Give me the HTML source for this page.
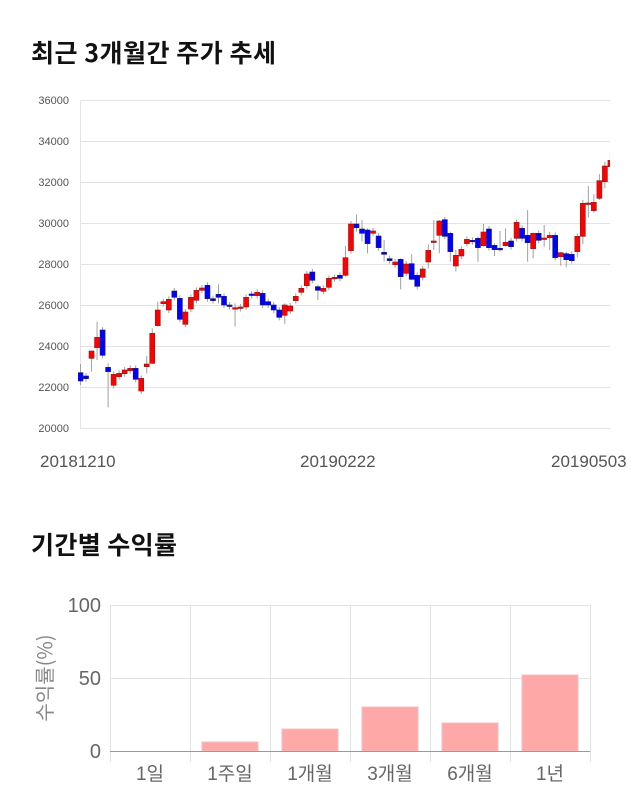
<!DOCTYPE html>
<html><head><meta charset="utf-8"><style>
body{margin:0;background:#fff;width:640px;height:810px;overflow:hidden;font-family:"Liberation Sans","Noto Sans CJK KR",sans-serif}
</style></head><body>
<svg id="s" width="640" height="810" xmlns="http://www.w3.org/2000/svg" style="position:absolute;left:0;top:0">
<text x="31" y="62" font-size="25" font-weight="bold" fill="#111" font-family="Noto Sans CJK KR, sans-serif" textLength="245">최근 3개월간 주가 추세</text>
<text x="31" y="554" font-size="25" font-weight="bold" fill="#111" font-family="Noto Sans CJK KR, sans-serif" textLength="146">기간별 수익률</text>
<g id="grid" stroke="#e3e3e3" stroke-width="1"></g>
<line x1="80.5" y1="100" x2="80.5" y2="428" stroke="#e3e3e3"/>
<g id="ylab" font-size="11" fill="#555" text-anchor="end"></g>
<g font-size="17" fill="#555">
<text x="40" y="467">20181210</text>
<text x="300" y="467">20190222</text>
<text x="551" y="467">20190503</text>
</g>
<g id="cs"></g>
<g stroke="#e3e3e3">
<line x1="110" y1="605.5" x2="590" y2="605.5"/>
<line x1="110" y1="678.5" x2="590" y2="678.5"/>
<line x1="110.5" y1="605" x2="110.5" y2="762"/>
<line x1="190.5" y1="605" x2="190.5" y2="762"/>
<line x1="270.5" y1="605" x2="270.5" y2="762"/>
<line x1="350.5" y1="605" x2="350.5" y2="762"/>
<line x1="430.5" y1="605" x2="430.5" y2="762"/>
<line x1="510.5" y1="605" x2="510.5" y2="762"/>
<line x1="590.5" y1="605" x2="590.5" y2="762"/>
</g>
<g fill="#ffa8a8" stroke="#f0c0c0" stroke-width="1">
<rect x="202" y="742" width="56" height="9"/>
<rect x="282" y="729" width="56" height="22"/>
<rect x="362" y="707" width="56" height="44"/>
<rect x="442" y="723" width="56" height="28"/>
<rect x="522" y="675" width="56" height="76"/>
</g>
<line x1="110" y1="751.5" x2="590" y2="751.5" stroke="#999"/>
<g font-size="20" fill="#666" text-anchor="end">
<text x="101" y="612">100</text>
<text x="101" y="685">50</text>
<text x="101" y="758">0</text>
</g>
<text transform="translate(52,678) rotate(-90)" font-size="20" fill="#888" text-anchor="middle" font-family="Noto Sans CJK KR, sans-serif">수익률(%)</text>
<g font-size="19" fill="#666" text-anchor="middle" font-family="Liberation Sans, Noto Sans CJK KR, sans-serif">
<text x="150" y="780">1일</text>
<text x="230" y="780">1주일</text>
<text x="310" y="780">1개월</text>
<text x="390" y="780">3개월</text>
<text x="470" y="780">6개월</text>
<text x="550" y="780">1년</text>
</g>
</svg>
<script>
var NS="http://www.w3.org/2000/svg";
function el(p,t,a){var e=document.createElementNS(NS,t);for(var k in a)e.setAttribute(k,a[k]);p.appendChild(e);return e;}
var g=document.getElementById('grid'),yl=document.getElementById('ylab');
for(var i=0;i<=8;i++){var v=20000+i*2000;var y=428-(v-20000)*0.0205;
el(g,'line',{x1:80,x2:610,y1:y+0.5,y2:y+0.5});
var t=el(yl,'text',{x:69,y:y+4});t.textContent=v;}
var A=[[848,873,'b',822,885],[858,866,'b'],[783,805,'r',783,845],[742,773,'r',695,810],[720,796,'b'],[832,845,'b',820,952],[853,886,'r'],[850,860,'r'],[840,851,'r'],[835,842,'r'],[835,868,'b'],[865,903,'r'],[822,830,'r',798,850],[730,820,'r',715,822],[660,707,'r',635,710],[635,641,'r'],[628,660,'r'],[603,622,'b'],[625,688,'b'],[666,703,'r'],[622,657,'r'],[601,631,'r'],[594,601,'r'],[586,626,'b'],[626,632,'b'],[613,622,'b',583,640],[619,645,'b'],[645,648,'b'],[653,657,'r',640,710],[651,655,'r'],[622,651,'r'],[612,616,'b'],[607,617,'r'],[610,645,'b'],[635,645,'b'],[645,660,'b'],[660,682,'b'],[645,676,'r',640,702],[648,663,'r'],[619,632,'r'],[595,607,'r'],[552,587,'r'],[546,571,'b'],[590,601,'b',585,630],[595,604,'r'],[565,592,'r']];
var B=[[382,385,'r'],[376,385,'b'],[323,376,'r',288,380],[222,302,'r'],[222,233,'b',193,245],[237,250,'b',210,275],[240,281,'b',235,310],[243,250,'r'],[258,293,'b'],[307,313,'b',270,335],[326,332,'b'],[336,344,'r'],[328,380,'b',325,418],[342,370,'r'],[341,388,'b',313,390],[376,409,'b'],[357,382,'r'],[301,336,'r',283,355],[273,275,'r',210,300],[213,256,'r',210,310],[209,259,'b'],[250,305,'b',245,335],[316,348,'r',300,365],[298,318,'r'],[268,281,'r'],[271,274,'b'],[265,293,'b',260,335],[246,287,'r',222,290],[237,293,'b'],[286,299,'b',280,318],[295,299,'b',243,305],[277,287,'r',235,290],[273,290,'b'],[217,265,'r'],[235,265,'b'],[256,278,'b',180,335],[250,296,'r',248,325],[250,271,'b'],[264,266,'r',225,290],[256,263,'r',245,300],[256,323,'b'],[308,320,'r',305,347],[311,329,'b',305,352],[313,332,'b'],[259,305,'r',250,322],[160,259,'r',150,282],[159,161,'r',108,203],[157,182,'r',132,188],[92,145,'r',72,150],[48,95,'r',35,115],[31,50,'r',5,88]];
var cs=document.getElementById('cs');
var all=[];A.forEach(function(c){all.push([90+c[0]/3,90+c[1]/3,c[2],c[3]!=null?90+c[3]/3:null,c[4]!=null?90+c[4]/3:null]);});
B.forEach(function(c){all.push([150+c[0]/3,150+c[1]/3,c[2],c[3]!=null?150+c[3]/3:null,c[4]!=null?150+c[4]/3:null]);});
var clip=el(cs,'clipPath',{id:'cp'});el(clip,'rect',{x:78,y:95,width:532,height:340});
var gg=el(cs,'g',{'clip-path':'url(#cp)'});
all.forEach(function(c,i){var x=80+i*5.52;var t=c[0],b=c[1];if(b-t<1.5)b=t+1.5;
var wt=c[3]!=null?Math.min(c[3],t):t-3,wb=c[4]!=null?Math.max(c[4],b):b+3;
el(gg,'line',{x1:x+0.5,x2:x+0.5,y1:wt,y2:wb,stroke:'#a0a0a0','stroke-width':1});
el(gg,'rect',{x:x-2,y:t,width:5,height:b-t,fill:c[2]=='r'?'#ff0000':'#0000ff',stroke:c[2]=='r'?'#8b1a1a':'#1a1a6b','stroke-width':0.6});});
</script>
</body></html>
